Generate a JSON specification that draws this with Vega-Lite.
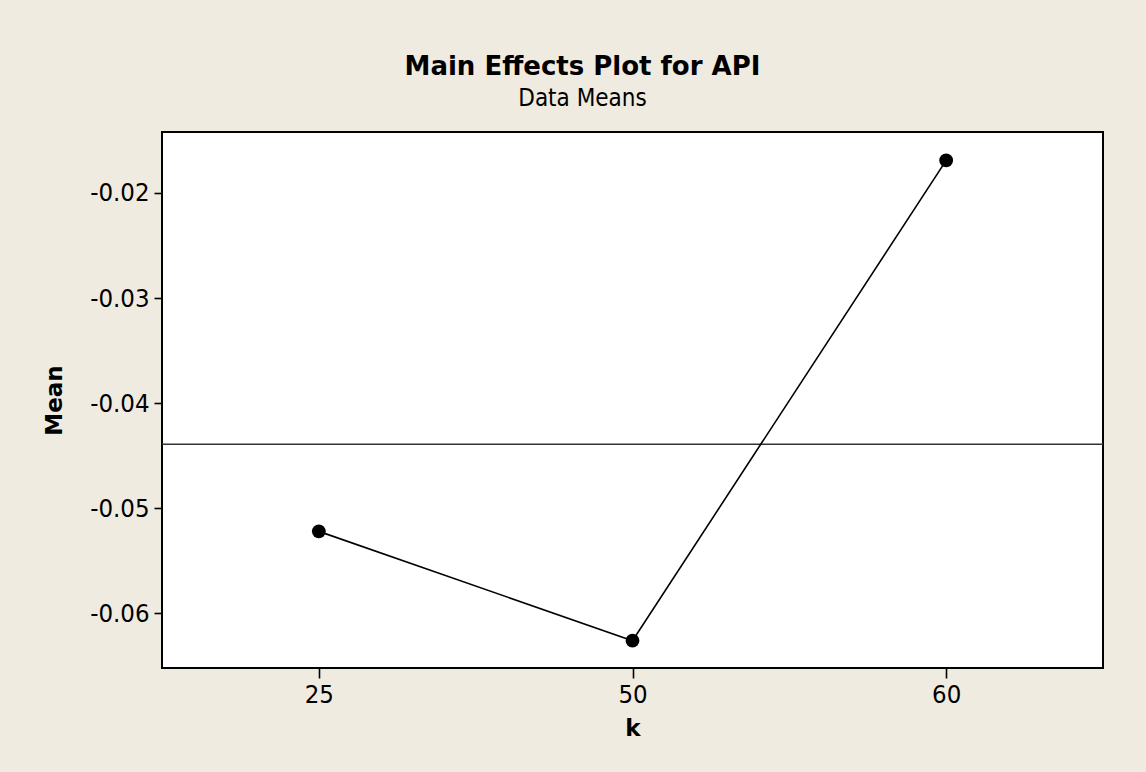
{
  "$schema": "https://vega.github.io/schema/vega-lite/v6.json",
  "width": 941,
  "height": 536,
  "autosize": {"type": "none"},
  "padding": {"left": 162, "top": 132, "right": 43, "bottom": 104},
  "background": "#EFEBE1",
  "title": {
    "text": "Main Effects Plot for API",
    "subtitle": "Data Means",
    "anchor": "middle",
    "dx": -50,
    "offset": 21,
    "subtitlePadding": 7,
    "font": "DejaVu Sans, sans-serif",
    "subtitleFont": "DejaVu Sans Condensed, DejaVu Sans, sans-serif",
    "fontSize": 26,
    "fontWeight": "bold",
    "subtitleFontSize": 24,
    "color": "#000000",
    "subtitleColor": "#000000"
  },
  "data": {
    "values": [
      {"k": "25", "Mean": -0.0522},
      {"k": "50", "Mean": -0.0626},
      {"k": "60", "Mean": -0.0169}
    ]
  },
  "layer": [
    {
      "transform": [{"aggregate": [{"op": "mean", "field": "Mean", "as": "Grand"}]}],
      "mark": {"type": "rule", "color": "#333333", "strokeWidth": 1.5},
      "encoding": {
        "y": {
          "field": "Grand",
          "type": "quantitative",
          "title": "Mean",
          "scale": {"domain": [-0.0652, -0.0142], "nice": false, "zero": false},
          "axis": {"values": [-0.06, -0.05, -0.04, -0.03, -0.02], "format": ".2f"}
        }
      }
    },
    {
      "mark": {"type": "line", "color": "#000000", "strokeWidth": 1.6},
      "encoding": {
        "x": {"field": "k", "type": "ordinal", "sort": ["25", "50", "60"], "scale": {"type": "point", "padding": 0.5}, "title": "k"},
        "y": {
          "field": "Mean",
          "type": "quantitative",
          "title": "Mean",
          "axis": {"values": [-0.06, -0.05, -0.04, -0.03, -0.02], "format": ".2f"}
        }
      }
    },
    {
      "mark": {"type": "point", "filled": true, "color": "#000000", "opacity": 1, "size": 190},
      "encoding": {
        "x": {"field": "k", "type": "ordinal", "sort": ["25", "50", "60"], "title": "k"},
        "y": {
          "field": "Mean",
          "type": "quantitative",
          "title": "Mean",
          "axis": {"values": [-0.06, -0.05, -0.04, -0.03, -0.02], "format": ".2f"}
        }
      }
    }
  ],
  "config": {
    "view": {"fill": "#ffffff", "stroke": "#000000", "strokeWidth": 2},
    "axis": {
      "labelFont": "DejaVu Sans Condensed, DejaVu Sans, sans-serif",
      "labelFontSize": 25.5,
      "labelColor": "#000000",
      "titleFont": "DejaVu Sans, sans-serif",
      "titleFontSize": 23,
      "titleFontWeight": "bold",
      "titleColor": "#000000",
      "tickColor": "#000000",
      "tickWidth": 1.6,
      "grid": false,
      "domain": false
    },
    "axisY": {
      "tickSize": 8,
      "labelPadding": 5,
      "titlePadding": 23,
      "labelExpr": "replace(datum.label, '\u2212', '-')"
    },
    "axisX": {
      "tickSize": 10,
      "labelPadding": 4,
      "labelAngle": 0,
      "titlePadding": 10
    }
  }
}
